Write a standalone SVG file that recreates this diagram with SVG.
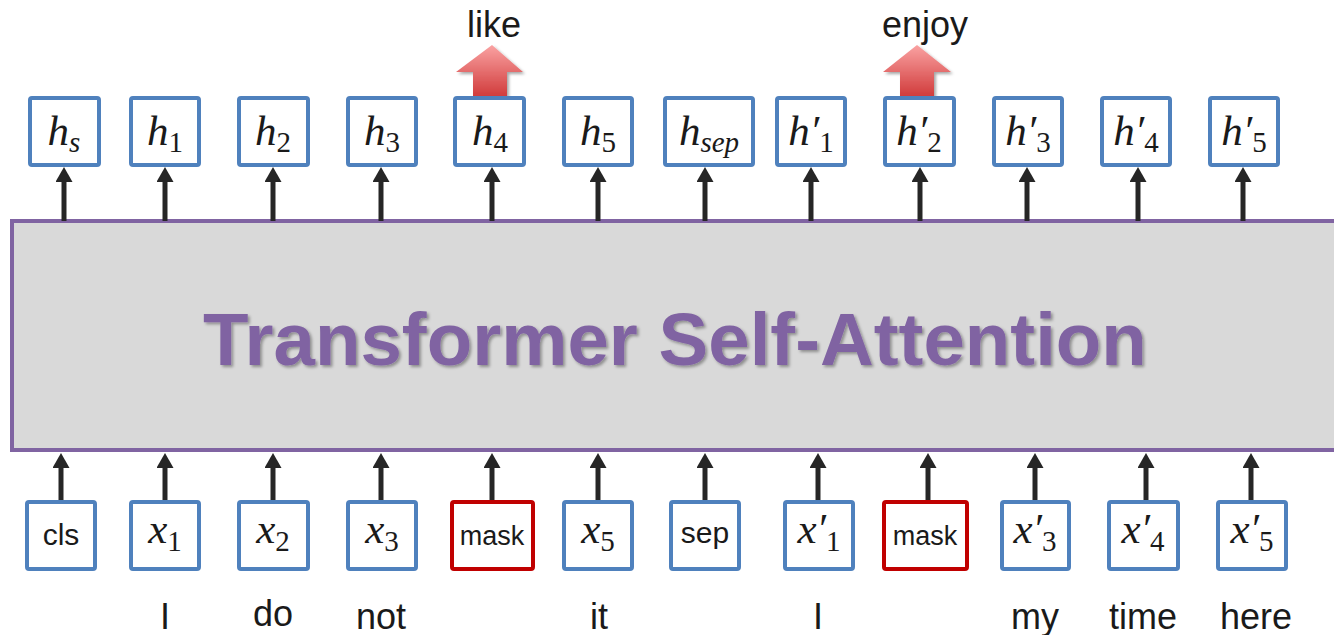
<svg xmlns="http://www.w3.org/2000/svg" width="1334" height="635" viewBox="0 0 1334 635">
<style>
.box{fill:#fff;stroke:#4F81BD;stroke-width:4}
.mbox{fill:#fff;stroke:#C00000;stroke-width:4}
.m{font-family:"Liberation Serif","DejaVu Serif",serif;font-style:italic;font-size:43px;fill:#1a1a1a;text-anchor:middle}
.sub{font-style:normal;font-size:29px}
.isub{font-style:italic;font-size:29px}
.lbl{font-family:"Liberation Sans",Arial,sans-serif;font-size:30px;fill:#1a1a1a;text-anchor:middle}
.mk{font-family:"Liberation Sans",Arial,sans-serif;font-size:27px;fill:#1a1a1a;text-anchor:middle}
.word{font-family:"Liberation Sans",Arial,sans-serif;font-size:36px;fill:#1a1a1a;text-anchor:middle}
.conn{stroke:#262626;stroke-width:5;fill:none;marker-end:url(#ah)}
</style>
<defs>
<marker id="ah" markerUnits="userSpaceOnUse" markerWidth="15" markerHeight="17" viewBox="0 0 15 17" refX="1" refY="8.5" orient="auto">
<path d="M0,0 L15,8.5 L0,17 z" fill="#262626"/>
</marker>
<linearGradient id="red" x1="0" y1="0" x2="0" y2="1">
<stop offset="0" stop-color="#FAA2A2"/>
<stop offset="1" stop-color="#D03A3A"/>
</linearGradient>
<filter id="sh" x="-5%" y="-5%" width="110%" height="120%">
<feDropShadow dx="2" dy="2" stdDeviation="1.5" flood-color="#000" flood-opacity="0.35"/>
</filter>
</defs>

<g id="transformer">
<rect x="12" y="221" width="1330" height="229" fill="#D9D9D9" stroke="#8064A2" stroke-width="4"/>
<text x="675" y="365" font-family="Liberation Sans,Arial,sans-serif" font-weight="bold" font-size="74.5" fill="#8064A2" text-anchor="middle" filter="url(#sh)">Transformer Self-Attention</text>
</g>

<g id="connectors">
<path class="conn" d="M64,221 V181"/>
<path class="conn" d="M165,221 V181"/>
<path class="conn" d="M273,221 V181"/>
<path class="conn" d="M381,221 V181"/>
<path class="conn" d="M492,221 V181"/>
<path class="conn" d="M598,221 V181"/>
<path class="conn" d="M705,221 V181"/>
<path class="conn" d="M811,221 V181"/>
<path class="conn" d="M920,221 V181"/>
<path class="conn" d="M1027,221 V181"/>
<path class="conn" d="M1138,221 V181"/>
<path class="conn" d="M1243,221 V181"/>
<path class="conn" d="M61,502 V467"/>
<path class="conn" d="M165,502 V467"/>
<path class="conn" d="M273,502 V467"/>
<path class="conn" d="M381,502 V467"/>
<path class="conn" d="M492,502 V467"/>
<path class="conn" d="M598,502 V467"/>
<path class="conn" d="M705,502 V467"/>
<path class="conn" d="M818,502 V467"/>
<path class="conn" d="M928,502 V467"/>
<path class="conn" d="M1035,502 V467"/>
<path class="conn" d="M1146,502 V467"/>
<path class="conn" d="M1251,502 V467"/>
</g>

<g id="out-arrows">
<path d="M492,45 L523,72 L507,72 L507,97 L473,97 L473,72 L456,72 Z" fill="url(#red)" filter="url(#sh)"/>
<path d="M917,45 L951,72 L934,72 L934,97 L900,97 L900,72 L883,72 Z" fill="url(#red)" filter="url(#sh)"/>
<text class="word" x="494" y="37">like</text>
<text class="word" x="925" y="37">enjoy</text>
</g>

<g id="h_s"><rect class="box" x="30" y="98" width="69" height="67" rx="2"/><text class="m" x="64" y="145">h<tspan class="isub" dy="7">s</tspan></text></g>
<g id="h_1"><rect class="box" x="131" y="98" width="68" height="67" rx="2"/><text class="m" x="165" y="145">h<tspan class="sub" dy="7">1</tspan></text></g>
<g id="h_2"><rect class="box" x="239" y="98" width="69" height="67" rx="2"/><text class="m" x="273" y="145">h<tspan class="sub" dy="7">2</tspan></text></g>
<g id="h_3"><rect class="box" x="348" y="98" width="68" height="67" rx="2"/><text class="m" x="382" y="145">h<tspan class="sub" dy="7">3</tspan></text></g>
<g id="h_4"><rect class="box" x="455" y="98" width="69" height="67" rx="2"/><text class="m" x="490" y="145">h<tspan class="sub" dy="7">4</tspan></text></g>
<g id="h_5"><rect class="box" x="564" y="98" width="68" height="67" rx="2"/><text class="m" x="598" y="145">h<tspan class="sub" dy="7">5</tspan></text></g>
<g id="h_sep"><rect class="box" x="665" y="98" width="88" height="67" rx="2"/><text class="m" x="709" y="145">h<tspan class="isub" dy="7">sep</tspan></text></g>
<g id="hp_1"><rect class="box" x="777" y="98" width="68" height="67" rx="2"/><text class="m" x="811" y="145">h′<tspan class="sub" dy="7">1</tspan></text></g>
<g id="hp_2"><rect class="box" x="885" y="98" width="69" height="67" rx="2"/><text class="m" x="919" y="145">h′<tspan class="sub" dy="7">2</tspan></text></g>
<g id="hp_3"><rect class="box" x="994" y="98" width="68" height="67" rx="2"/><text class="m" x="1028" y="145">h′<tspan class="sub" dy="7">3</tspan></text></g>
<g id="hp_4"><rect class="box" x="1102" y="98" width="68" height="67" rx="2"/><text class="m" x="1136" y="145">h′<tspan class="sub" dy="7">4</tspan></text></g>
<g id="hp_5"><rect class="box" x="1210" y="98" width="68" height="67" rx="2"/><text class="m" x="1244" y="145">h′<tspan class="sub" dy="7">5</tspan></text></g>

<g id="in_cls"><rect class="box" x="27" y="502" width="68" height="67" rx="2"/><text class="lbl" x="61" y="545">cls</text></g>
<g id="x_1"><rect class="box" x="131" y="502" width="68" height="67" rx="2"/><text class="m" x="165" y="543">x<tspan class="sub" dy="8">1</tspan></text></g>
<g id="x_2"><rect class="box" x="239" y="502" width="69" height="67" rx="2"/><text class="m" x="273" y="543">x<tspan class="sub" dy="8">2</tspan></text></g>
<g id="x_3"><rect class="box" x="348" y="502" width="68" height="67" rx="2"/><text class="m" x="382" y="543">x<tspan class="sub" dy="8">3</tspan></text></g>
<g id="in_mask1"><rect class="mbox" x="452" y="502" width="81" height="67" rx="2"/><text class="mk" x="492" y="545">mask</text></g>
<g id="x_5"><rect class="box" x="564" y="502" width="68" height="67" rx="2"/><text class="m" x="598" y="543">x<tspan class="sub" dy="8">5</tspan></text></g>
<g id="in_sep"><rect class="box" x="671" y="502" width="68" height="67" rx="2"/><text class="lbl" x="705" y="543">sep</text></g>
<g id="xp_1"><rect class="box" x="785" y="502" width="68" height="67" rx="2"/><text class="m" x="819" y="543">x′<tspan class="sub" dy="8">1</tspan></text></g>
<g id="in_mask2"><rect class="mbox" x="884" y="502" width="83" height="67" rx="2"/><text class="mk" x="925" y="545">mask</text></g>
<g id="xp_3"><rect class="box" x="1002" y="502" width="67" height="67" rx="2"/><text class="m" x="1035" y="543">x′<tspan class="sub" dy="8">3</tspan></text></g>
<g id="xp_4"><rect class="box" x="1109" y="502" width="69" height="67" rx="2"/><text class="m" x="1143" y="543">x′<tspan class="sub" dy="8">4</tspan></text></g>
<g id="xp_5"><rect class="box" x="1218" y="502" width="68" height="67" rx="2"/><text class="m" x="1252" y="543">x′<tspan class="sub" dy="8">5</tspan></text></g>

<g id="words">
<text class="word" x="165" y="629">I</text>
<text class="word" x="273" y="626">do</text>
<text class="word" x="381" y="629">not</text>
<text class="word" x="599" y="629">it</text>
<text class="word" x="818" y="629">I</text>
<text class="word" x="1035" y="629">my</text>
<text class="word" x="1143" y="629">time</text>
<text class="word" x="1256" y="629">here</text>
</g>
</svg>
